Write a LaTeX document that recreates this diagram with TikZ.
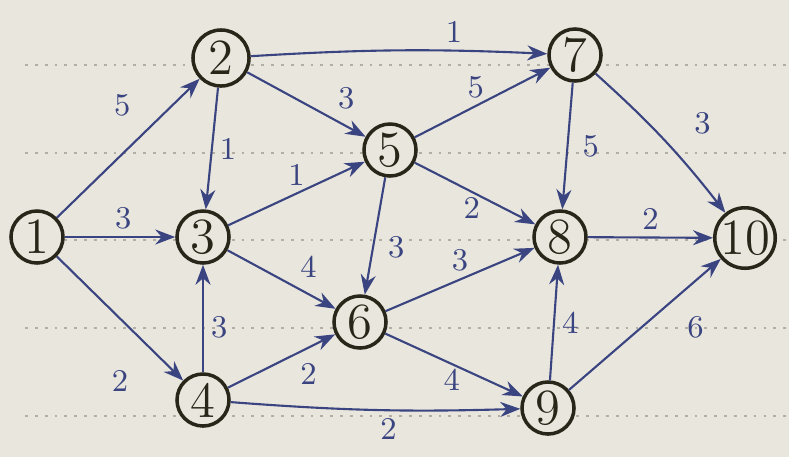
\documentclass[tikz,border=0pt]{standalone}
\usepackage{xcolor}
\usepackage{tikz}
\usetikzlibrary{arrows.meta}
\definecolor{paper}{RGB}{233,230,222}
\definecolor{ink}{RGB}{58,68,128}
\definecolor{pencil}{RGB}{40,38,25}
\definecolor{ruling}{RGB}{178,174,164}

\begin{document}
\begin{tikzpicture}[
    x=0.01cm, y=-0.01cm,
    vtx/.style={draw=pencil, circle, line width=1pt, minimum size=0.52cm, inner sep=0.5pt, font=\Large, text=pencil, fill=paper},
    arr/.style={-{Stealth[length=2mm]}, line width=0.6pt, ink},
    lbl/.style={font=\small, text=ink, inner sep=2pt}
]
% paper and ruled lines
\fill[paper] (0,0) rectangle (789,457);
\useasboundingbox (0,0) rectangle (789,457);
\foreach \y in {65,153,240,328,416}
  \draw[ruling, dotted, line width=0.8pt] (25,\y) -- (789,\y);

\node[vtx] (v1) at (37,237) {1};
\node[vtx, minimum size=0.56cm] (v2) at (221,58) {2};
\node[vtx] (v3) at (203,237) {3};
\node[vtx] (v4) at (203,400) {4};
\node[vtx] (v5) at (390,150) {5};
\node[vtx] (v6) at (360,322) {6};
\node[vtx] (v7) at (575,55) {7};
\node[vtx] (v8) at (560,237) {8};
\node[vtx] (v9) at (548,408) {9};
\node[vtx, inner sep=0pt] (v10) at (745,238) {10};

\draw[arr] (v1) -- node[lbl, pos=0.62, above left, inner sep=4pt] {5} (v2);
\draw[arr] (v1) -- node[lbl, pos=0.53, above] {3} (v3);
\draw[arr] (v1) -- node[lbl, pos=0.74, below left, inner sep=6pt] {2} (v4);
\draw[arr] (v2) -- node[lbl, pos=0.5, right] {1} (v3);
\draw[arr] (v2) -- node[lbl, pos=0.7, above right] {3} (v5);
\draw[arr] (v2) to[bend left=3] node[lbl, pos=0.7, above] {1} (v7);
\draw[arr] (v3) -- node[lbl, pos=0.5, above] {1} (v5);
\draw[arr] (v3) -- node[lbl, pos=0.6, above right] {4} (v6);
\draw[arr] (v4) -- node[lbl, pos=0.42, right] {3} (v3);
\draw[arr] (v4) -- node[lbl, pos=0.6, below right] {2} (v6);
\draw[arr] (v4) to[bend right=3] node[lbl, pos=0.55, below] {2} (v9);
\draw[arr] (v5) -- node[lbl, pos=0.45, above] {5} (v7);
\draw[arr] (v5) -- node[lbl, pos=0.55, below left, inner sep=0pt] {2} (v8);
\draw[arr] (v5) -- node[lbl, pos=0.6, right, inner sep=4pt] {3} (v6);
\draw[arr] (v6) -- node[lbl, pos=0.5, above] {3} (v8);
\draw[arr] (v6) -- node[lbl, pos=0.55, below left, inner sep=0pt] {4} (v9);
\draw[arr] (v7) -- node[lbl, pos=0.5, right, inner sep=4pt] {5} (v8);
\draw[arr] (v7) to[bend left=5] node[lbl, pos=0.6, above right, inner sep=5pt] {3} (v10);
\draw[arr] (v8) -- node[lbl, pos=0.5, above] {2} (v10);
\draw[arr] (v9) -- node[lbl, pos=0.5, right] {4} (v8);
\draw[arr] (v9) -- node[lbl, pos=0.68, below right, inner sep=4pt] {6} (v10);
\end{tikzpicture}
\end{document}
